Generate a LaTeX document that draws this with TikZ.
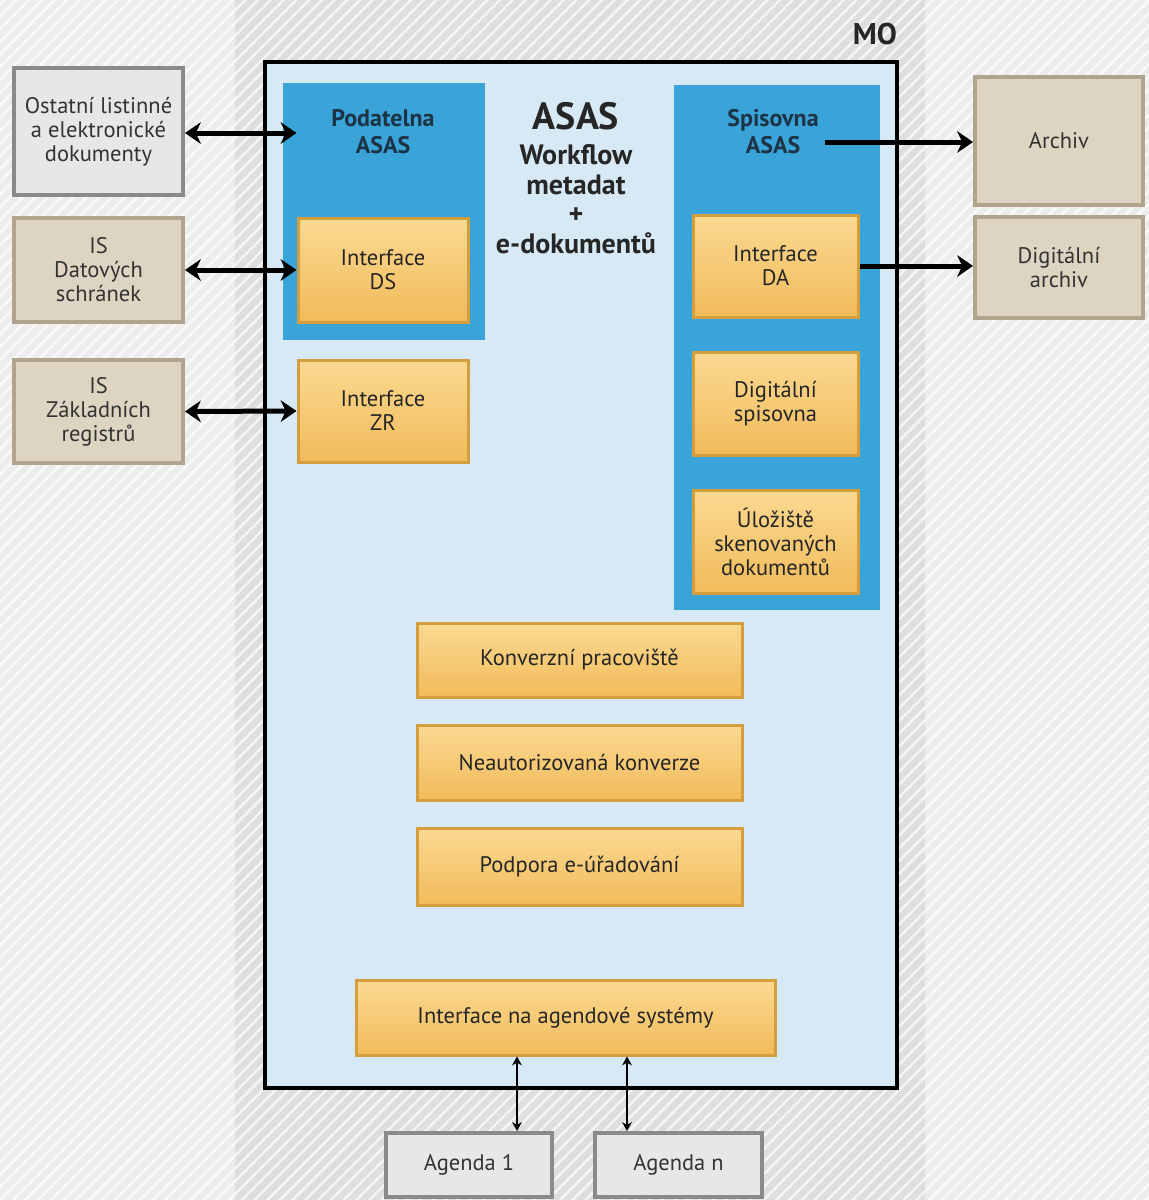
\documentclass[tikz,border=0pt]{standalone}
\usepackage{fontspec}
\setmainfont{PT Sans}
\usetikzlibrary{positioning,arrows.meta,patterns.meta}
\definecolor{outerclr}{RGB}{236,236,236}
\definecolor{bandclr}{RGB}{222,222,222}
\definecolor{asasclr}{RGB}{214,233,245}
\definecolor{panelclr}{RGB}{58,163,216}
\definecolor{paneltxt}{RGB}{28,52,70}
\definecolor{ifctop}{RGB}{251,217,146}
\definecolor{ifcbot}{RGB}{241,187,90}
\definecolor{ifcedge}{RGB}{212,158,62}
\definecolor{extgrey}{RGB}{231,231,231}
\definecolor{extgreyedge}{RGB}{138,138,138}
\definecolor{extbeige}{RGB}{222,212,194}
\definecolor{extbeigeedge}{RGB}{176,164,140}
\newcommand\boxfont{\fontsize{22.5}{24}\selectfont}
\newcommand\headfont{\fontsize{24}{27}\selectfont\bfseries}
\tikzset{
  ifc/.style={rectangle,draw=ifcedge,line width=3pt,top color=ifctop,
              bottom color=ifcbot,align=center,font=\boxfont,text=black!85},
  extg/.style={rectangle,draw=extgreyedge,line width=4pt,fill=extgrey,
               align=center,font=\boxfont,text=black!80},
  extb/.style={extg,draw=extbeigeedge,fill=extbeige},
  panel/.style={rectangle,fill=panelclr,inner sep=0pt},
  paneltitle/.style={align=center,font=\headfont,text=paneltxt},
  fat/.style={line width=5pt,-{Stealth[length=16pt,width=22pt,line width=0pt]}},
  fatboth/.style={line width=5pt,{Stealth[length=16pt,width=22pt,line width=0pt]}-{Stealth[length=16pt,width=22pt,line width=0pt]}},
  slim/.style={line width=2pt,{Stealth[length=9pt,width=10pt,line width=0pt]}-{Stealth[length=9pt,width=10pt,line width=0pt]}},
}

\begin{document}
\begin{tikzpicture}[x=1pt,y=-1pt]

% ── background with hatching
\fill[outerclr] (0,0) rectangle (1149,1200);
\fill[bandclr] (235,0) rectangle (925,1200);
\fill[pattern={Lines[angle=45,distance=9pt,line width=2.5pt]},pattern color=white,opacity=0.7]
  (0,0) rectangle (1149,1200);
\useasboundingbox (0,0) rectangle (1149,1200);

% ── MO frame
\node[font=\fontsize{30}{32}\selectfont\bfseries,text=black!85] (mo) at (875,34) {MO};
\node[rectangle,draw=black,line width=4pt,fill=asasclr,minimum width=632pt,
      minimum height=1026pt] (asasfr) at (581,575) {};

% ── blue panels
\node[panel,minimum width=202pt,minimum height=257pt] (podp) at (384,211.5) {};
\node[panel,minimum width=206pt,minimum height=525pt] (spip) at (777,347.5) {};
\node[paneltitle] (podt) at (383,132) {Podatelna\\ASAS};
\node[paneltitle] (spit) at (773,132) {Spisovna\\ASAS};
\node[align=center,font=\fontsize{28}{29.5}\selectfont\bfseries,text=black!85] (asas) at (576,178)
  {{\fontsize{38}{36}\selectfont ASAS}\\[6pt]Workflow\\metadat\\+\\e-dokumentů};

% ── interfaces inside ASAS
\node[ifc,minimum width=170pt,minimum height=104pt] (ids) at (383,270) {Interface\\DS};
\node[ifc,minimum width=170pt,minimum height=102pt] (izr) at (383,411) {Interface\\ZR};
\node[ifc,minimum width=165pt,minimum height=102pt] (ida) at (775.5,266) {Interface\\DA};
\node[ifc,minimum width=165pt,minimum height=103pt] (dsp) at (775.5,403.5) {Digitální\\spisovna};
\node[ifc,minimum width=165pt,minimum height=103pt] (ulo) at (775.5,541.5) {Úložiště\\skenovaných\\dokumentů};
\node[ifc,minimum width=325pt,minimum height=74pt] (konv) at (579.5,660) {Konverzní pracoviště};
\node[ifc,minimum width=325pt,minimum height=75pt] (neaut) at (579.5,762.5) {Neautorizovaná konverze};
\node[ifc,minimum width=325pt,minimum height=77pt] (podpora) at (579.5,866.5) {Podpora e-úřadování};
\node[ifc,minimum width=419pt,minimum height=75pt] (iag) at (565.5,1017.5) {Interface na agendové systémy};

% ── external systems
\node[extg,minimum width=169pt,minimum height=127pt] (ost) at (98.5,131.5) {Ostatní listinné\\a elektronické\\dokumenty};
\node[extb,minimum width=169pt,minimum height=104pt] (isds) at (98.5,270) {IS\\Datových\\schránek};
\node[extb,minimum width=169pt,minimum height=103pt] (iszr) at (98.5,411.5) {IS\\Základních\\registrů};
\node[extb,minimum width=168pt,minimum height=128pt] (arch) at (1059,141) {Archiv};
\node[extb,minimum width=168pt,minimum height=101pt] (darch) at (1059,267.5) {Digitální\\archiv};
\node[extg,minimum width=166pt,minimum height=64pt] (ag1) at (469,1165) {Agenda 1};
\node[extg,minimum width=167pt,minimum height=64pt] (agn) at (678.5,1165) {Agenda n};

% ── connectors
\coordinate (spo) at (825,142);
\draw[fatboth] (ost.east |- 0,133) -- (ids.west |- 0,133);
\draw[fatboth] (isds.east) -- (ids.west);
\draw[fatboth] (iszr.east) -- (izr.west);
\draw[fat] (spo) -- (arch.west |- spo);
\draw[fat] (ida.east) -- (darch.west |- ida.east);
\draw[slim] (517,0 |- iag.south) -- (517,0 |- ag1.north);
\draw[slim] (627,0 |- iag.south) -- (627,0 |- agn.north);

\end{tikzpicture}
\end{document}
